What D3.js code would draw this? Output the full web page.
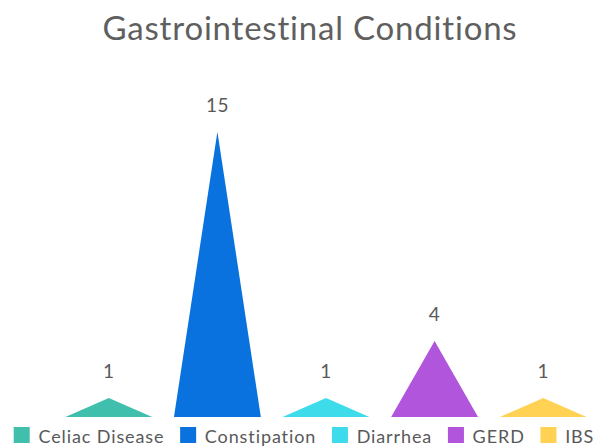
<!DOCTYPE html>
<html>
<head>
<meta charset="utf-8">
<script src="https://cdn.jsdelivr.net/npm/d3@7"></script>
<style>
  html, body { margin: 0; padding: 0; background: #fff; }
  svg { display: block; }
  text { font-family: Lato, "Open Sans", sans-serif; }
</style>
</head>
<body>
<svg id="chart" width="607" height="448"></svg>
<script>
const title = "Gastrointestinal Conditions";
const categories = ["Celiac Disease", "Constipation", "Diarrhea", "GERD", "IBS"];
const values = [1, 15, 1, 4, 1];
const colors = ["#40BFAD", "#0A72DE", "#3EDCEB", "#B055DC", "#FFD254"];

const W = 607, H = 448;
const svg = d3.select("#chart");

const x = d3.scaleBand().domain(categories).range([54.5, 597.5])
  .paddingInner(0.2).paddingOuter(0.1);
const y = d3.scaleLinear().domain([0, 15]).range([417, 131.7]);

svg.append("text")
  .attr("x", 310).attr("y", 39.5)
  .attr("text-anchor", "middle")
  .attr("font-size", 33)
  .attr("letter-spacing", 0.8)
  .attr("fill", "#5f5f5f")
  .text(title);

const g = svg.append("g");
g.selectAll("path.bar").data(categories).join("path")
  .attr("class", "bar")
  .attr("fill", (d, i) => colors[i])
  .attr("d", (d, i) => {
    const x0 = x(d), x1 = x(d) + x.bandwidth(), xm = x(d) + x.bandwidth() / 2;
    return `M${x0},${y(0)}L${xm},${y(values[i])}L${x1},${y(0)}Z`;
  });

g.selectAll("text.val").data(categories).join("text")
  .attr("class", "val")
  .attr("x", d => x(d) + x.bandwidth() / 2)
  .attr("y", (d, i) => y(values[i]) - 20)
  .attr("text-anchor", "middle")
  .attr("font-size", 19)
  .attr("letter-spacing", 0.5)
  .attr("fill", "#595959")
  .text((d, i) => values[i]);

// legend
const leg = svg.append("g");
const items = leg.selectAll("g").data(categories).join("g");
items.append("rect").attr("width", 16).attr("height", 16).attr("y", 427)
  .attr("fill", (d, i) => colors[i]);
items.append("text").attr("x", 24.7).attr("y", 443).attr("font-size", 18)
  .attr("letter-spacing", 0.9)
  .attr("fill", "#595959").text(d => d);
let widths = [];
items.each(function() { widths.push(d3.select(this).select("text").node().getComputedTextLength()); });
const gap = 15.7;
const total = widths.reduce((a, w) => a + 24.7 + w, 0) + gap * (widths.length - 1);
let cx = 304 - total / 2;
items.each(function(d, i) {
  d3.select(this).attr("transform", `translate(${cx},0)`);
  cx += 24.7 + widths[i] + gap;
});
</script>
</body>
</html>
